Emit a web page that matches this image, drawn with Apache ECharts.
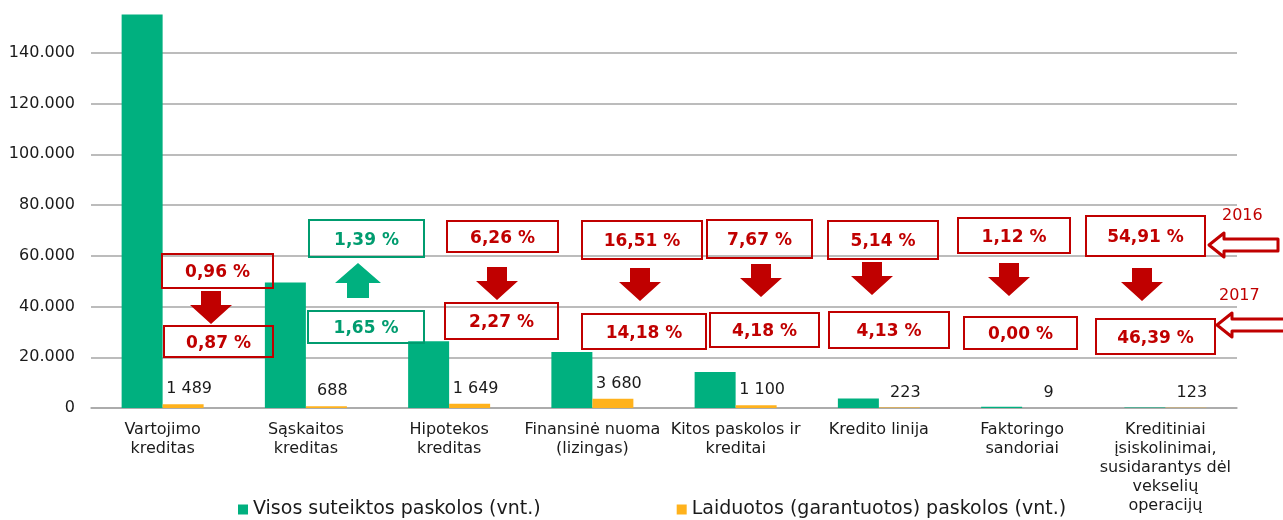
<!DOCTYPE html>
<html>
<head>
<meta charset="utf-8">
<script src="https://cdn.jsdelivr.net/npm/echarts@6/dist/echarts.min.js"></script>
<style>
	html, body { margin: 0; padding: 0; background: #fff; }
	#chart { width: 1283px; height: 520px; }
</style>
</head>
<body>
<div id="chart"></div>
<script>
// categories (line breaks as in the original axis)
var categories = [
	"Vartojimo\nkreditas",
	"Sąskaitos\nkreditas",
	"Hipotekos\nkreditas",
	"Finansinė nuoma\n(lizingas)",
	"Kitos paskolos ir\nkreditai",
	"Kredito linija",
	"Faktoringo\nsandoriai",
	"Kreditiniai\nįsiskolinimai,\nsusidarantys dėl\nvekselių\noperacijų",
];
var allLoans = [155100, 49500, 26300, 22100, 14200, 3700, 500, 224];
var guaranteed = [1489, 688, 1649, 3680, 1100, 223, 9, 123];
var share2016 = ["0,96", "1,39", "6,26", "16,51", "7,67", "5,14", "1,12", "54,91"];
var share2017 = ["0,87", "1,65", "2,27", "14,18", "4,18", "4,13", "0,00", "46,39"];
var yearLabels = ["2016", "2017"];
var seriesNames = ["Visos suteiktos paskolos (vnt.)", "Laiduotos (garantuotos) paskolos (vnt.)"];

var RED = "#C00000";
var GREEN = "#00B07F";
var GREEN_TXT = "#009C6F";
var ORANGE = "#FFB21C";
var FONT = "DejaVu Sans";

// annotation layout: boxes [x1, y1, x2, y2], arrows [centre x, top y]
var topBoxes = [
	[162, 254, 273, 288], [309, 220, 424, 257], [447, 221, 558, 252], [582, 221, 702, 259],
	[707, 220, 812, 258], [828, 221, 938, 259], [958, 218, 1070, 253], [1086, 216, 1205, 256],
];
var bottomBoxes = [
	[164, 326, 273, 357], [308, 311, 424, 343], [445, 303, 558, 339], [582, 314, 706, 349],
	[710, 313, 819, 347], [829, 312, 949, 348], [964, 317, 1077, 349], [1096, 319, 1215, 354],
];
var arrows = [
	[211, 291], [358, 263], [497, 267], [640, 268],
	[761, 264], [872, 262], [1009, 263], [1142, 268],
];

function num(s) {
	return parseFloat(s.replace(",", "."));
}

function spaced(v, sep) {
	return String(v).replace(/\B(?=(\d{3})+(?!\d))/g, sep);
}

function box(b, text, color) {
	return [
		{
			type: "rect",
			shape: { x: b[0], y: b[1], width: b[2] - b[0], height: b[3] - b[1] },
			style: { fill: "none", stroke: color, lineWidth: 2 },
			z: 10,
		},
		{
			type: "text",
			x: (b[0] + b[2]) / 2,
			y: (b[1] + b[3]) / 2 + 2,
			style: {
				text: text,
				fill: color,
				font: "bold 17px '" + FONT + "'",
				align: "center",
				verticalAlign: "middle",
			},
			z: 11,
		},
	];
}

function blockArrow(a, up, color) {
	var cx = a[0], y = a[1];
	var pts;
	if (up) {
		pts = [[cx, y], [cx + 23, y + 20], [cx + 11, y + 20], [cx + 11, y + 35],
			[cx - 11, y + 35], [cx - 11, y + 20], [cx - 23, y + 20]];
	} else {
		pts = [[cx - 10, y], [cx + 10, y], [cx + 10, y + 14], [cx + 21, y + 14],
			[cx, y + 33], [cx - 21, y + 14], [cx - 10, y + 14]];
	}
	return { type: "polygon", shape: { points: pts }, style: { fill: color }, z: 10 };
}

function hollowArrow(tipX, cy, endX) {
	var pts = [[tipX, cy], [tipX + 15, cy - 12], [tipX + 15, cy - 6], [endX, cy - 6],
		[endX, cy + 6], [tipX + 15, cy + 6], [tipX + 15, cy + 12]];
	return {
		type: "polygon",
		shape: { points: pts },
		style: { fill: "#fff", stroke: RED, lineWidth: 3, lineJoin: "round" },
		z: 10,
	};
}

var graphics = [];
for (var i = 0; i < categories.length; i++) {
	var up = num(share2017[i]) > num(share2016[i]);
	var col = up ? GREEN_TXT : RED;
	graphics.push.apply(graphics, box(topBoxes[i], share2016[i] + " %", col));
	graphics.push.apply(graphics, box(bottomBoxes[i], share2017[i] + " %", col));
	graphics.push(blockArrow(arrows[i], up, up ? GREEN : RED));
}
graphics.push({
	type: "text", x: 1222, y: 208,
	style: { text: yearLabels[0], fill: RED, font: "16px '" + FONT + "'" }, z: 11,
});
graphics.push({
	type: "text", x: 1219, y: 288,
	style: { text: yearLabels[1], fill: RED, font: "16px '" + FONT + "'" }, z: 11,
});
graphics.push(hollowArrow(1209, 245, 1278));
graphics.push(hollowArrow(1217, 325, 1292));

var option = {
	animation: false,
	textStyle: { fontFamily: FONT },
	grid: { left: 91, right: 46, top: 2, bottom: 112, containLabel: false },
	legend: {
		left: 233,
		top: 495,
		itemWidth: 10,
		itemHeight: 10,
		itemGap: 136,
		icon: "rect",
		textStyle: { fontSize: 19, color: "#1a1a1a", fontFamily: FONT },
		data: seriesNames,
	},
	xAxis: {
		type: "category",
		data: categories,
		axisTick: { show: false },
		axisLine: { lineStyle: { color: "#a6a6a6", width: 1.5 } },
		axisLabel: {
			interval: 0,
			margin: 12,
			fontSize: 16,
			lineHeight: 19,
			color: "#1a1a1a",
		},
	},
	yAxis: {
		type: "value",
		min: 0,
		max: 160000,
		interval: 20000,
		axisLine: { show: false },
		axisTick: { show: false },
		splitLine: {
			showMaxLine: false,
			lineStyle: { color: "#a6a6a6", width: 1.5 },
		},
		axisLabel: {
			showMaxLabel: false,
			margin: 16,
			fontSize: 16,
			color: "#1a1a1a",
			formatter: function (v) {
				return spaced(v, ".");
			},
		},
	},
	series: [
		{
			name: seriesNames[0],
			type: "bar",
			data: allLoans,
			barWidth: 41,
			barGap: "0%",
			itemStyle: { color: GREEN },
		},
		{
			name: seriesNames[1],
			type: "bar",
			data: guaranteed,
			barWidth: 41,
			itemStyle: { color: ORANGE },
			label: {
				show: true,
				position: "top",
				distance: 7,
				offset: [6, 0],
				fontSize: 16,
				color: "#1a1a1a",
				formatter: function (p) {
					return spaced(p.value, " ");
				},
			},
		},
	],
	graphic: graphics,
};

var chart = echarts.init(document.getElementById("chart"));
chart.setOption(option);
</script>
</body>
</html>
